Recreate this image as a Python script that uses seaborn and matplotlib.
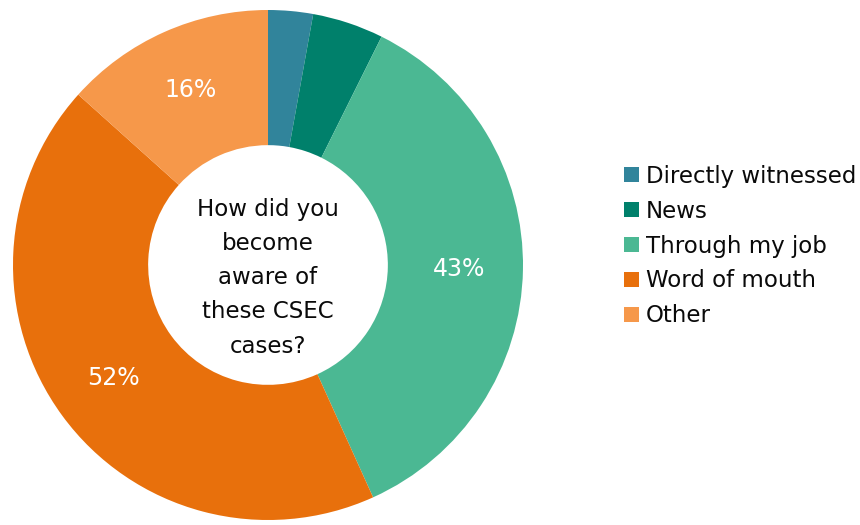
import matplotlib
matplotlib.use("Agg")
import matplotlib.pyplot as plt
import seaborn as sns
from matplotlib.patches import Patch

# data
categories = ["Directly witnessed", "News", "Through my job", "Word of mouth", "Other"]
values = [3.4, 5.4, 43, 52, 16]
colors = ["#31849B", "#00806B", "#4BB893", "#E8700C", "#F6984A"]
center_text = "How did you\nbecome\naware of\nthese CSEC\ncases?"

sns.set_theme(style="white")
plt.rcParams["font.family"] = ["DejaVu Sans"]
plt.rcParams["text.color"] = "#0a0a0a"

fig = plt.figure(figsize=(8.6, 5.25), dpi=100)
ax = fig.add_axes([13 / 860, 5 / 525, 510 / 860, 510 / 525])

pal = sns.color_palette(colors)
wedges, _, autotexts = ax.pie(
    values,
    colors=pal,
    startangle=90,
    counterclock=False,
    radius=1.0,
    wedgeprops=dict(width=0.53, edgecolor="none"),
    autopct=lambda p: "",
    pctdistance=0.75,
    textprops=dict(color="white", fontsize=17),
)
for t, v in zip(autotexts, values):
    if v >= 10:
        t.set_text(f"{v:.0f}%")

ax.text(0, -0.05, center_text, ha="center", va="center", fontsize=16.5,
        linespacing=1.62, color="#0a0a0a")
ax.set_xlim(-1, 1)
ax.set_ylim(-1, 1)
ax.set_aspect("equal")
ax.axis("off")

handles = [Patch(facecolor=c, edgecolor="none") for c in colors]
fig.legend(handles, categories, loc="center left", bbox_to_anchor=(624 / 860, 1 - 246 / 525),
           frameon=False, fontsize=16.5, handlelength=0.65, handleheight=0.65,
           handletextpad=0.3, labelspacing=0.52, borderaxespad=0, borderpad=0)

fig.savefig("out.png", dpi=100)
